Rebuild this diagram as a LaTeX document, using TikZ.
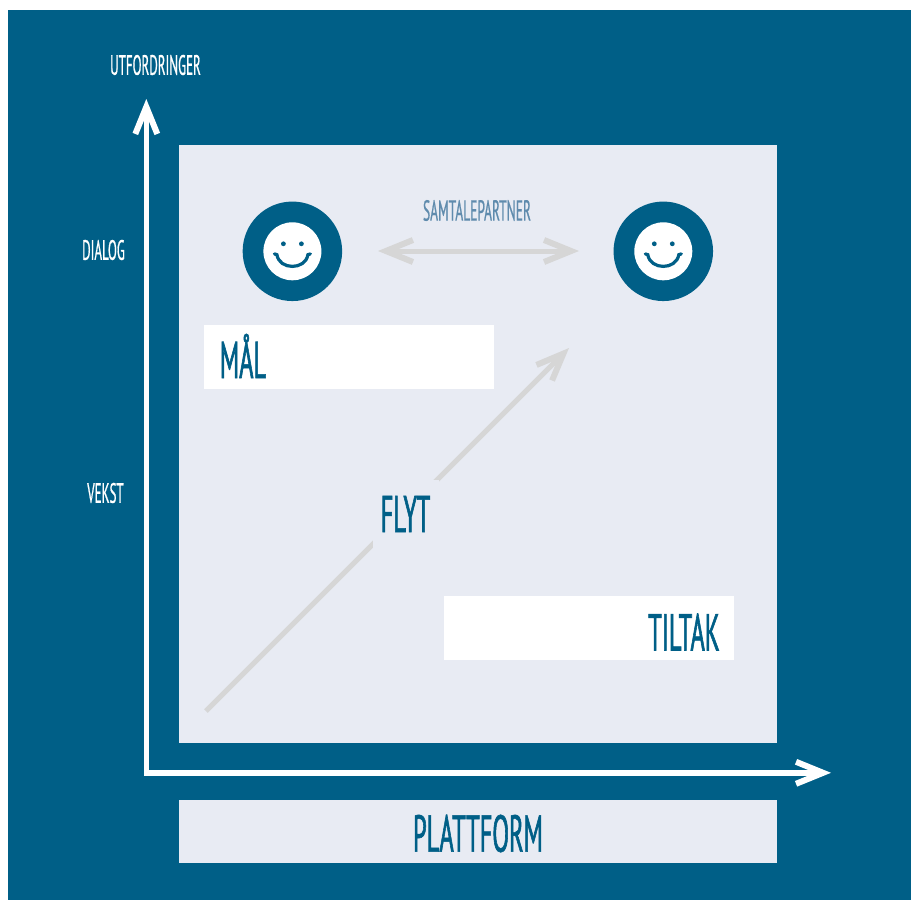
\documentclass[tikz,border=0pt]{standalone}
\usepackage{fontspec}
\usetikzlibrary{arrows.meta}
\newfontfamily\narrowfont[FakeStretch=0.465,FakeBold=0.6]{PT Sans}
\newfontfamily\narrowbold[FakeStretch=0.47,FakeBold=1.1]{PT Sans}
\definecolor{deepblue}{HTML}{005F87}
\definecolor{panel}{HTML}{E8EBF3}
\definecolor{barb}{HTML}{D6D6D6}
\definecolor{softblue}{HTML}{5F8BAD}
\tikzset{
  x=1pt,y=-1pt,
  barbtip/.tip={Straight Barb[length=27pt,width=22pt,line width=6pt]},
  every node/.style={inner sep=0pt,outer sep=0pt,font=\narrowfont},
  small/.style={text=#1,font=\narrowfont\fontsize{28}{28}\selectfont},
  mid/.style={text=#1,font=\narrowfont\fontsize{29}{29}\selectfont},
  big/.style={text=deepblue,font=\narrowbold\fontsize{52}{52}\selectfont},
  axis/.style={draw=white,line width=5.5pt,{barbtip}-{barbtip},line join=miter},
  flow/.style={draw=barb,line width=5pt,-{barbtip}},
  both/.style={draw=barb,line width=5pt,{barbtip}-{barbtip}},
  ring/.style={circle,fill=deepblue,minimum size=99.5pt},
  face/.style={circle,fill=white,minimum size=58pt},
  eye/.style={circle,fill=deepblue,minimum size=4.8pt},
}
\newcommand{\smiley}[3]{%
  \node[ring] (#1) at (#2,#3) {};
  \node[face] (#1face) at (#1) {};
  \node[eye] (#1l) at (#2-9,#3-7.5) {};
  \node[eye] (#1r) at (#2+9,#3-7.5) {};
  \draw[deepblue,line width=3.2pt,line cap=round]
    (#2-18,#3+2.6) -- (#2-15.5,#3+3.4)
    .. controls (#2-13,#3+19) and (#2+13,#3+19) .. (#2+15.5,#3+3.4)
    -- (#2+18,#3+2.6);
}
\begin{document}
\begin{tikzpicture}
\useasboundingbox (0,0) rectangle (911,900);
\fill[white] (0,0) rectangle (911,900);
\fill[deepblue] (8,10) rectangle (911,900);
\fill[panel] (179,145) rectangle (777,743);
\fill[panel] (179,800) rectangle (777,863);
\fill[white] (204,325) rectangle (494,389);
\fill[white] (444,596) rectangle (734,660);

\coordinate (origin) at (146.3,772.8);
\coordinate (ytip) at (146.3,99);
\coordinate (xtip) at (831,772.8);
\draw[axis] (ytip) -- (origin) -- (xtip);

\node[small=white] (utf) at (155.5,65) {UTFORDRINGER};
\node[small=white] (dialog) at (103.5,250) {DIALOG};
\node[small=white] (vekst) at (105.5,493) {VEKST};
\node[mid=softblue] (samtale) at (477,210.5) {SAMTALEPARTNER};

\smiley{left}{292.4}{251.3}
\smiley{right}{663.3}{251.3}

\coordinate (bothA) at (378,251);
\coordinate (bothB) at (579,251);
\draw[both] (bothA) -- (bothB);

\coordinate (flowA) at (206,711);
\coordinate (flowB) at (569,348);
\draw[flow] (flowA) -- (flowB);

\node[big,fill=panel,minimum width=66pt,minimum height=68pt] (flyt) at (405.5,514) {FLYT};
\node[big] (maal) at (243,356) {MÅL};
\node[big] (tiltak) at (684,632) {TILTAK};
\node[big] (plattform) at (478,833.5) {PLATTFORM};
\end{tikzpicture}
\end{document}
